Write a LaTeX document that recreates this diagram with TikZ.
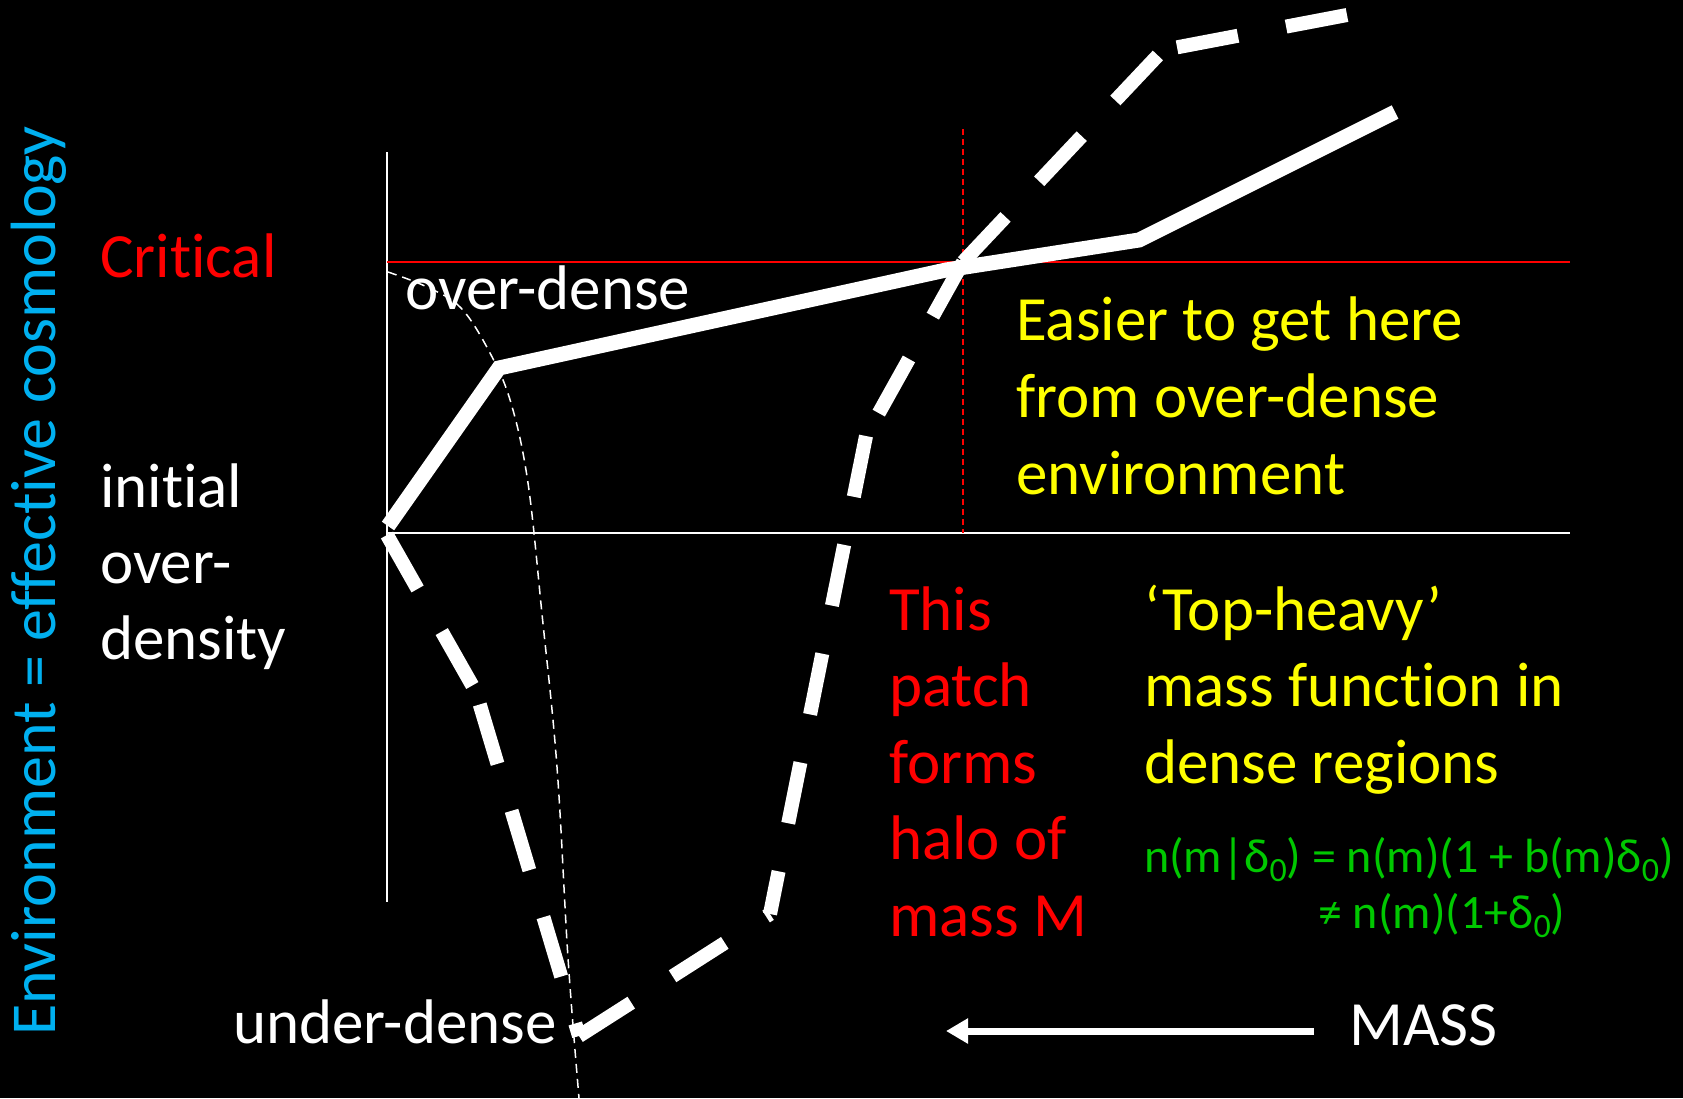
\documentclass[tikz,border=0pt]{standalone}
\usepackage{fontspec}
\setmainfont{Carlito}[Ligatures=NoCommon]
\usetikzlibrary{arrows.meta}
\definecolor{envblue}{HTML}{00B0F0}
\definecolor{hotred}{HTML}{FF0000}
\definecolor{noteyellow}{HTML}{FFFF00}
\definecolor{eqgreen}{HTML}{00C800}
\tikzset{
  lbl/.style={inner sep=0pt, anchor=base west, font=\fontsize{63}{76}\selectfont},
  eqlbl/.style={inner sep=0pt, anchor=base west, text=eqgreen, font=\fontsize{48}{58}\selectfont},
  axisline/.style={draw=white, line width=2pt},
  critline/.style={draw=hotred, line width=2pt},
  markline/.style={draw=hotred, line width=1.6pt, dash pattern=on 6pt off 4pt},
  trackline/.style={draw=white, line width=15pt, line join=miter},
  trackdash/.style={draw=white, line width=14pt, dash pattern=on 62pt off 49pt},
  boundary/.style={draw=white, line width=1.5pt, dash pattern=on 9pt off 6pt},
}
\newcommand{\subz}{\raisebox{-9pt}{\fontsize{34}{34}\selectfont 0}}

\begin{document}
\begin{tikzpicture}[x=1pt,y=-1pt]
\fill[black] (0,0) rectangle (1683,1098);
\useasboundingbox (0,0) rectangle (1683,1098);

% axes, critical level and the mass marker
\coordinate (origin) at (387,533);
\coordinate (axtop) at (387,152);
\coordinate (axbot) at (387,902);
\coordinate (axright) at (1570,533);
\coordinate (critL) at (387,262);
\coordinate (critR) at (1570,262);
\coordinate (mtop) at (963,129);
\coordinate (mbot) at (963,533);
\draw[axisline] (axtop) -- (axbot);
\draw[axisline] (origin) -- (axright);
\draw[critline] (critL) -- (critR);
\draw[markline] (mtop) -- (mbot);

% boundary between over- and under-dense histories
\draw[boundary] plot[smooth, tension=0.6] coordinates {
  (388,272) (427,287) (461,308) (490,353) (511,403) (528,483)
  (542,614) (557,767) (568,958) (579,1098)};

% trajectory in the over-dense patch
\coordinate (s0) at (388,526);
\coordinate (s1) at (499,368);
\coordinate (s2) at (946,270);
\coordinate (s3) at (1139,240);
\coordinate (s4) at (1395,112);
\draw[trackline] (s0) -- (s1) -- (s2) -- (s3) -- (s4);

% trajectory in the under-dense patch
\coordinate (d0) at (387,535);
\coordinate (d1) at (476,692);
\coordinate (d2) at (579,1036);
\coordinate (d3) at (770,914);
\coordinate (d4) at (866,436);
\coordinate (d5) at (963,262);
\coordinate (d6) at (1163,50);
\coordinate (d7) at (1347,15);
\draw[trackdash] (d0) -- (d1);
\draw[trackdash, dash phase=98pt] (d1) -- (d2);
\draw[trackdash] (d2) -- (d3);
\draw[trackdash] (d4) -- (d3);
\draw[trackdash] (d5) -- (d4);
\draw[trackdash] (d5) -- (d6);
\draw[trackdash] (d7) -- (d6);

% labels
\node[lbl, text=envblue, rotate=90, font=\fontsize{64}{76}\selectfont] (envlabel) at (55,1036) {Environment = effective cosmology};
\node[lbl, text=hotred] (critical) at (100,277) {Critical};
\node[lbl, text=white] (init1) at (100,507) {initial};
\node[lbl, text=white] (init2) at (100,583) {over-};
\node[lbl, text=white] (init3) at (100,659) {density};
\node[lbl, text=white] (overdense) at (405,309) {over-dense};
\node[lbl, text=white] (underdense) at (233,1043) {under-dense};
\node[lbl, text=white] (masslabel) at (1349,1045) {MASS};

\node[lbl, text=noteyellow] (easy1) at (1016,340) {Easier to get here};
\node[lbl, text=noteyellow] (easy2) at (1016,417) {from over-dense};
\node[lbl, text=noteyellow] (easy3) at (1016,494) {environment};

\node[lbl, text=hotred] (patch1) at (889,630) {This};
\node[lbl, text=hotred] (patch2) at (889,706) {patch};
\node[lbl, text=hotred] (patch3) at (889,783) {forms};
\node[lbl, text=hotred] (patch4) at (889,859) {halo of};
\node[lbl, text=hotred] (patch5) at (889,936) {mass M};

\node[lbl, text=noteyellow] (heavy1) at (1144,630) {‘Top-heavy’};
\node[lbl, text=noteyellow] (heavy2) at (1144,706) {mass function in};
\node[lbl, text=noteyellow] (heavy3) at (1144,783) {dense regions};

\node[eqlbl] (eq1) at (1144,872) {n(m|δ\subz) = n(m)(1 + b(m)δ\subz)};
\node[eqlbl] (eq2) at (1318,928) {≠ n(m)(1+δ\subz)};

% mass axis arrow
\coordinate (arrowtail) at (1314,1031);
\coordinate (arrowtip) at (946,1031);
\draw[white, line width=7pt, -{Triangle[length=22pt,width=24pt]}] (arrowtail) -- (arrowtip);
\end{tikzpicture}
\end{document}
